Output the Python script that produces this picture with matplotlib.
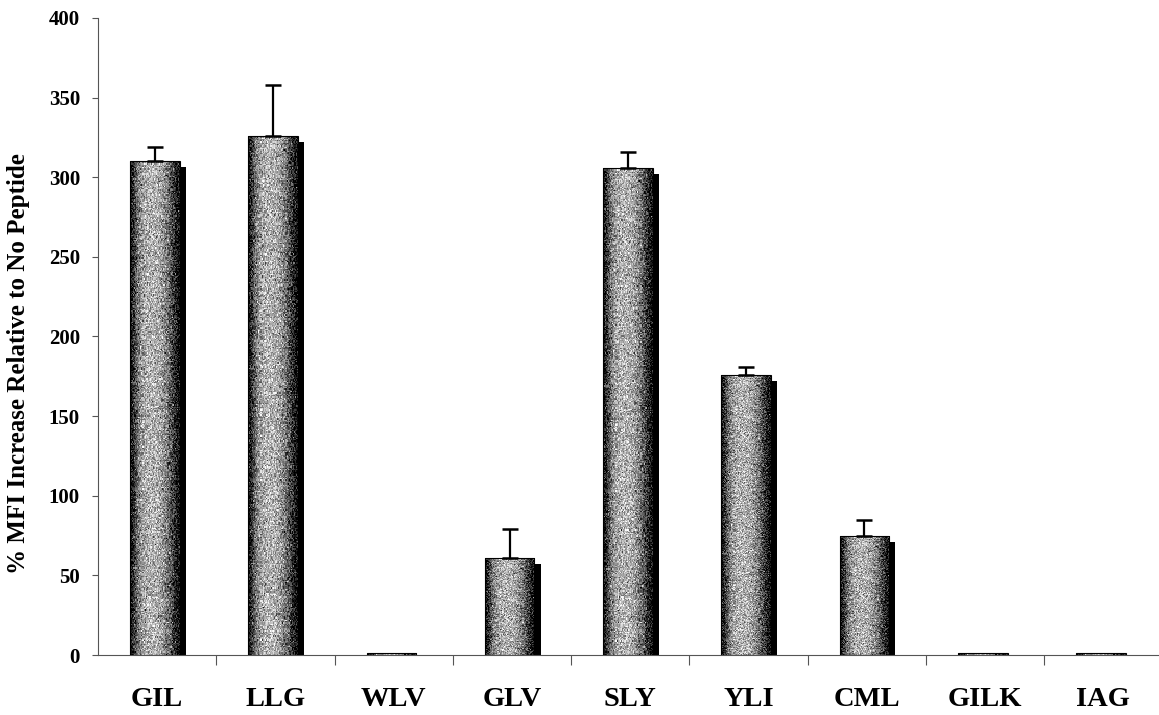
import numpy as np
import matplotlib.pyplot as plt
from matplotlib.colors import LinearSegmentedColormap

# peptide panel and binding response
peptides = ["GIL", "LLG", "WLV", "GLV", "SLY", "YLI", "CML", "GILK", "IAG"]
mfi_increase = [310, 326, 1, 61, 306, 176, 75, 1, 1]
mfi_error = [9, 32, 0, 18, 10, 5, 10, 0, 0]

plt.rcParams["font.family"] = ["Liberation Serif", "DejaVu Serif"]
plt.rcParams["font.weight"] = "bold"

fig = plt.figure(figsize=(11.59, 7.15), dpi=100)
ax = fig.add_axes([0.0846, 0.0839, 0.9154, 0.891])

x = np.arange(len(peptides))
face_w = 0.42
face_off = -0.02
shadow_dx = 0.052
shadow_dy = 3.8

# grey shading across the bar face, dark at both edges, with a halftone grain
profile = np.array([0.03, 0.2, 0.45, 0.6, 0.66, 0.7, 0.7, 0.68, 0.64, 0.56,
                    0.44, 0.28, 0.12, 0.03])
cols = np.interp(np.linspace(0, len(profile) - 1, 48), np.arange(len(profile)), profile)
grain = np.random.default_rng(3).normal(0, 0.16, (400, 48))
texture = np.clip(cols[np.newaxis, :] + grain, 0, 1)
cmap = LinearSegmentedColormap.from_list("face", ["black", "white"])

# drop shadow behind each bar
ax.bar(x + face_off + shadow_dx, np.maximum(np.array(mfi_increase) - shadow_dy, 0),
       width=face_w, color="black", zorder=2)

faces = ax.bar(x + face_off, mfi_increase, width=face_w, color="none",
               edgecolor="black", linewidth=0.8, zorder=3)
for bar in faces:
    x0, w, h = bar.get_x(), bar.get_width(), bar.get_height()
    rows = max(int(h * 1.6), 1)
    im = ax.imshow(texture[:rows], cmap=cmap, vmin=0, vmax=1,
                   extent=[x0, x0 + w, 0, h], aspect="auto",
                   interpolation="nearest", zorder=2.5)
    im.set_clip_path(bar)

# upward-only error bars
for xi, v, e in zip(x, mfi_increase, mfi_error):
    if e > 0:
        ax.errorbar(xi + face_off, v, yerr=[[0], [e]], fmt="none", ecolor="black",
                    elinewidth=1.6, capsize=6, capthick=1.8, zorder=4)

ax.set_xlim(-0.5, 8.47)
ax.set_ylim(0, 400)
ax.set_yticks(np.arange(0, 401, 50))
ax.set_xticks(x)
ax.set_xticklabels(peptides)
ax.set_xticks(np.arange(0.5, 8, 1), minor=True)

ax.tick_params(axis="y", labelsize=15, length=4, width=0.8, color="#555555", pad=9)
ax.tick_params(axis="x", which="major", labelsize=20.5, length=0, pad=23)
ax.tick_params(axis="x", which="minor", length=7, width=0.8, color="#555555")

for side in ["top", "right"]:
    ax.spines[side].set_visible(False)
for side in ["left", "bottom"]:
    ax.spines[side].set_color("#555555")
    ax.spines[side].set_linewidth(0.8)

ax.set_ylabel("% MFI Increase Relative to No Peptide", fontsize=18,
              fontweight="bold")
ax.yaxis.set_label_coords(-0.064, 0.457)

fig.savefig("out.png", dpi=100)
